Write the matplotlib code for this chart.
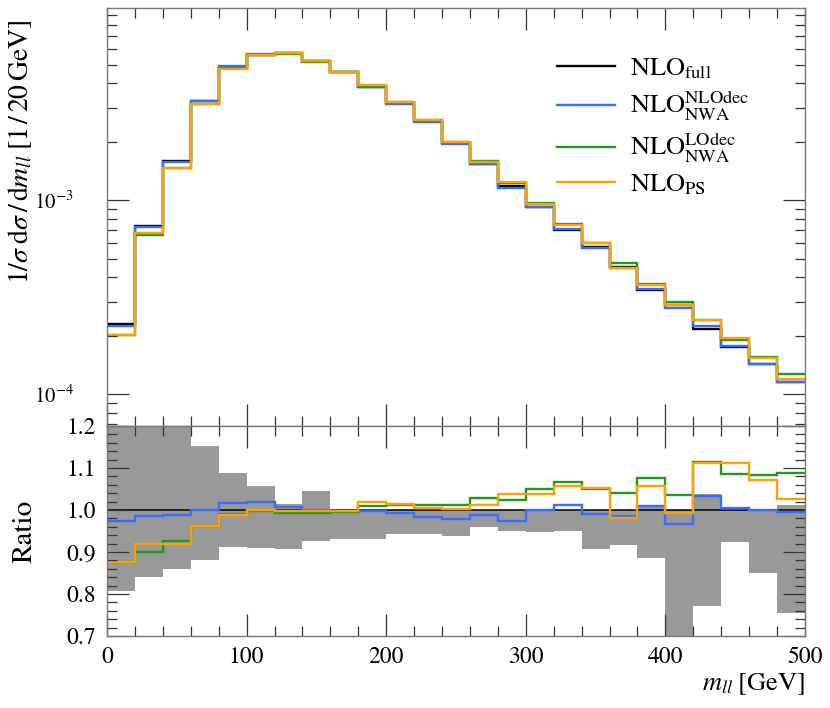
import numpy as np
import matplotlib
matplotlib.use('Agg')
import matplotlib.pyplot as plt
from matplotlib.ticker import MultipleLocator, LogLocator, NullFormatter

plt.rcParams['font.family'] = ['STIXGeneral', 'DejaVu Serif']
plt.rcParams['mathtext.fontset'] = 'stix'

# bin edges in m_ll [GeV]
edges = np.arange(0, 520, 20)

# normalised NLO_full distribution (1/20 GeV)
nlo_full = [2.29e-4, 7.34e-4, 1.59e-3, 3.24e-3, 4.83e-3, 5.60e-3, 5.74e-3, 5.21e-3,
            4.58e-3, 3.84e-3, 3.16e-3, 2.57e-3, 1.98e-3, 1.545e-3, 1.19e-3, 9.24e-4,
            7.04e-4, 5.70e-4, 4.53e-4, 3.44e-4, 2.88e-4, 2.16e-4, 1.75e-4, 1.43e-4, 1.16e-4]

# ratios to NLO_full
ratio_nlodec = [0.975, 0.985, 0.987, 1.000, 1.016, 1.019, 1.006, 1.000, 0.997, 0.998,
                0.993, 0.983, 0.979, 0.989, 0.975, 1.000, 1.011, 0.990, 0.986, 1.009,
                0.967, 1.034, 1.005, 1.000, 0.995]
ratio_lodec = [0.876, 0.900, 0.927, 0.962, 0.990, 0.997, 0.994, 0.993, 0.996, 1.010,
               1.012, 1.011, 1.011, 1.029, 1.025, 1.050, 1.067, 1.050, 1.041, 1.076,
               1.036, 1.115, 1.086, 1.083, 1.088]
ratio_ps = [0.876, 0.920, 0.920, 0.962, 0.988, 1.000, 0.998, 0.998, 0.997, 1.019,
            1.014, 1.005, 1.002, 1.013, 1.039, 1.039, 1.056, 1.052, 0.981, 1.057,
            0.994, 1.112, 1.112, 1.072, 1.027]

# uncertainty band of NLO_full (relative)
band_lo = [0.806, 0.841, 0.860, 0.881, 0.911, 0.909, 0.908, 0.927, 0.931, 0.931,
           0.942, 0.944, 0.939, 0.960, 0.951, 0.947, 0.949, 0.907, 0.917, 0.885,
           0.650, 0.772, 0.923, 0.849, 0.754]
band_hi = [1.25, 1.25, 1.25, 1.152, 1.087, 1.057, 1.014, 1.045, 1.0, 1.0,
           1.0, 1.0, 1.0, 1.0, 1.0, 1.0, 1.0, 1.0, 1.0, 1.009,
           1.0, 1.039, 1.0, 1.0, 1.011]

labels = [r'$\mathrm{NLO}_{\mathrm{full}}$',
          r'$\mathrm{NLO}_{\mathrm{NWA}}^{\mathrm{NLOdec}}$',
          r'$\mathrm{NLO}_{\mathrm{NWA}}^{\mathrm{LOdec}}$',
          r'$\mathrm{NLO}_{\mathrm{PS}}$']
colors = ['black', '#3a6dff', '#1f9a1f', '#ffa000']

full = np.array(nlo_full)
ratios = [np.ones(len(full)), np.array(ratio_nlodec), np.array(ratio_lodec), np.array(ratio_ps)]

fig = plt.figure(figsize=(8.3, 7.08), dpi=100)
ax = fig.add_axes([0.1289, 0.3983, 0.841, 0.5904])
rax = fig.add_axes([0.1289, 0.1017, 0.841, 0.2966], sharex=ax)

# main panel
for r, c, lab in zip(ratios, colors, labels):
    ax.stairs(full * r, edges, baseline=None, color=c, lw=1.7, label=lab)
ax.set_yscale('log')
ax.set_ylim(6.84e-5, 9.8e-3)
ax.set_xlim(0, 500)
ax.yaxis.set_major_locator(LogLocator(base=10, numticks=10))
ax.yaxis.set_minor_locator(LogLocator(base=10, subs=np.arange(2, 10), numticks=10))
ax.yaxis.set_minor_formatter(NullFormatter())
ax.set_ylabel(r'$1/\sigma\;\mathrm{d}\sigma\,/\,\mathrm{d}m_{ll}\;[1\,/\,20\,\mathrm{GeV}]$',
              fontsize=20, loc='top')
ax.yaxis.set_label_coords(-0.104, 0.972)
plt.setp(ax.get_xticklabels(), visible=False)

leg = ax.legend(loc='upper left', bbox_to_anchor=(0.645, 0.884), frameon=False,
                fontsize=19, handlelength=2.2, handletextpad=0.55, labelspacing=0.3,
                borderpad=0, borderaxespad=0)

# ratio panel
rax.stairs(band_hi, edges, baseline=band_lo, fill=True, color='#999999', lw=0)
for r, c in zip(ratios, colors):
    rax.stairs(r, edges, baseline=None, color=c, lw=1.1 if c == 'black' else 1.7)
rax.set_ylim(0.7, 1.2)
rax.yaxis.set_major_locator(MultipleLocator(0.1))
rax.yaxis.set_minor_locator(MultipleLocator(0.02))
rax.yaxis.set_major_formatter(matplotlib.ticker.FormatStrFormatter('%.1f'))
rax.set_ylabel('Ratio', fontsize=21)
rax.yaxis.set_label_coords(-0.1, 0.5)
rax.set_xlabel(r'$m_{ll}\;[\mathrm{GeV}]$', fontsize=19, loc='right', labelpad=2)

for a in (ax, rax):
    a.xaxis.set_major_locator(MultipleLocator(100))
    a.xaxis.set_minor_locator(MultipleLocator(20))
    a.tick_params(which='both', direction='in', top=True, right=True, color='#333333', width=0.9)
    a.tick_params(which='major', length=16)
    a.tick_params(which='minor', length=7)
    for s in a.spines.values():
        s.set_color('#777777')
        s.set_linewidth(1.0)

ax.tick_params(axis='y', which='major', labelsize=15, pad=24)
rax.tick_params(axis='both', which='major', labelsize=17, pad=8)

fig.savefig('out.png', dpi=100)
